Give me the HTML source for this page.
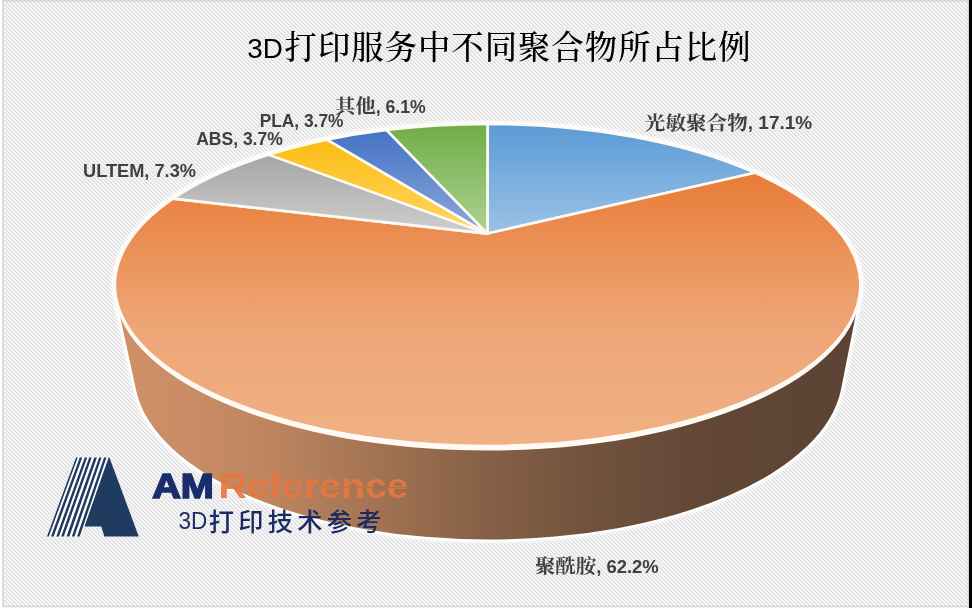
<!DOCTYPE html>
<html lang="zh-CN"><head><meta charset="utf-8"><title>3D打印服务中不同聚合物所占比例</title>
<style>html,body{margin:0;padding:0;background:#fff;overflow:hidden}svg{display:block}</style></head>
<body>
<svg width="972" height="608" viewBox="0 0 972 608">
<defs>
<linearGradient id="gBlue" gradientUnits="userSpaceOnUse" x1="0" y1="125" x2="0" y2="236"><stop offset="0" stop-color="#5b9bd5"/><stop offset="1" stop-color="#9dc3e6"/></linearGradient>
<linearGradient id="gOrange" gradientUnits="userSpaceOnUse" x1="0" y1="172" x2="0" y2="448"><stop offset="0" stop-color="#e87b36"/><stop offset="0.25" stop-color="#eb8f54"/><stop offset="0.55" stop-color="#eea576"/><stop offset="1" stop-color="#f0b184"/></linearGradient>
<linearGradient id="gGray" gradientUnits="userSpaceOnUse" x1="0" y1="155" x2="0" y2="236"><stop offset="0" stop-color="#a6a6a6"/><stop offset="1" stop-color="#cfcfcf"/></linearGradient>
<linearGradient id="gYellow" gradientUnits="userSpaceOnUse" x1="0" y1="140" x2="0" y2="236"><stop offset="0" stop-color="#fbbd12"/><stop offset="1" stop-color="#ffd766"/></linearGradient>
<linearGradient id="gBlue2" gradientUnits="userSpaceOnUse" x1="0" y1="130" x2="0" y2="236"><stop offset="0" stop-color="#4472c4"/><stop offset="1" stop-color="#8faadc"/></linearGradient>
<linearGradient id="gGreen" gradientUnits="userSpaceOnUse" x1="0" y1="125" x2="0" y2="236"><stop offset="0" stop-color="#70ad47"/><stop offset="1" stop-color="#aed494"/></linearGradient>
<linearGradient id="gSide" gradientUnits="userSpaceOnUse" x1="118" y1="0" x2="858" y2="0">
<stop offset="0" stop-color="#d09067"/><stop offset="0.1" stop-color="#c98c64"/><stop offset="0.2" stop-color="#be8660"/><stop offset="0.35" stop-color="#a27353"/><stop offset="0.5" stop-color="#856046"/><stop offset="0.65" stop-color="#70513c"/><stop offset="0.8" stop-color="#624736"/><stop offset="1" stop-color="#5c4333"/></linearGradient>
<filter id="glow" x="-5%" y="-5%" width="110%" height="110%"><feGaussianBlur stdDeviation="1.8"/></filter>
<pattern id="hatch" width="4" height="4" patternUnits="userSpaceOnUse"><rect width="4" height="4" fill="#fcfcfc"/><path d="M-4,-4 L8,8 M-4,0 L4,8 M0,-4 L8,4" stroke="#dedede" stroke-width="1.45"/></pattern>
</defs>
<rect x="0" y="0" width="972" height="608" fill="#ffffff"/>
<rect x="3" y="1" width="965.5" height="605.5" fill="url(#hatch)"/>
<rect x="3" y="0.75" width="965.5" height="605.75" fill="none" stroke="#d6d6d6" stroke-width="1.6"/>
<rect x="969" y="0" width="3" height="608" fill="#000000"/>
<path d="M116.53,300 L136.23,390.72 A354.07,165.5 0 0 0 841.07,389.22 L858.95,298.64 A372.7,161.05 0 1 0 116.53,300 Z" fill="#ffffff" stroke="#ffffff" stroke-width="7" stroke-linejoin="round" filter="url(#glow)" opacity="0.8"/>
<path d="M116.53,300 L136.23,390.72 A354.07,165.5 0 0 0 841.07,389.22 L858.95,298.64 A372.7,161.05 0 1 0 116.53,300 Z" fill="#ffffff" stroke="#ffffff" stroke-width="4.5" stroke-linejoin="round"/>
<path d="M116.53,300 L136.23,390.72 A354.07,165.5 0 0 0 841.07,389.22 L858.95,298.64 Z" fill="url(#gSide)"/>
<ellipse cx="487.6" cy="287.55" rx="373.6" ry="163.05" fill="#fffaf3"/>
<g stroke="#fdfaf3" stroke-width="2.6" stroke-linejoin="round">
<path d="M487.45,233.6 L487.5,123.9 A372.7,161.05 0 0 1 755.2,172.85 Z" fill="url(#gBlue)"/>
<path d="M487.45,233.6 L755.2,172.85 A372.7,161.05 0 1 1 173,198.6 Z" fill="url(#gOrange)"/>
<path d="M487.45,233.6 L173,198.6 A372.7,161.05 0 0 1 268.6,154.64 Z" fill="url(#gGray)"/>
<path d="M487.45,233.6 L268.6,154.64 A372.7,161.05 0 0 1 327,139.62 Z" fill="url(#gYellow)"/>
<path d="M487.45,233.6 L327,139.62 A372.7,161.05 0 0 1 386.4,129.95 Z" fill="url(#gBlue2)"/>
<path d="M487.45,233.6 L386.4,129.95 A372.7,161.05 0 0 1 487.5,123.9 Z" fill="url(#gGreen)"/>
</g>
<path d="M76.05,457.4 L108.6,457.4 L84.5,526.6 L81.5,536.4 L47,536.4 Z" fill="#ffffff"/>
<g fill="#1f3b60"><path d="M76.05,457.4 L77.75,457.4 L48.83,536.4 L47,536.4 Z"/><path d="M79.75,457.4 L82.25,457.4 L53.67,536.4 L50.98,536.4 Z"/><path d="M84.7,457.4 L87.2,457.4 L58.99,536.4 L56.3,536.4 Z"/><path d="M89.2,457.4 L91.7,457.4 L63.82,536.4 L61.14,536.4 Z"/><path d="M94.2,457.4 L96.9,457.4 L69.41,536.4 L66.51,536.4 Z"/><path d="M99.1,457.4 L101.6,457.4 L74.47,536.4 L71.78,536.4 Z"/><path d="M104,457.4 L106.5,457.4 L79.73,536.4 L77.05,536.4 Z"/><path d="M108.6,457.4 L109.4,457.4 L138.75,536.4 L104.4,536.4 L101.25,526.6 L84.5,526.6 Z"/></g>
<g font-family="&quot;Liberation Sans&quot;, &quot;Noto Serif CJK SC&quot;, sans-serif" fill="#000">
<text x="247.2" y="57.6" font-size="27.5" textLength="35.6" lengthAdjust="spacingAndGlyphs">3D</text>
<text x="284.6" y="58.9" font-size="32.4" font-weight="500" textLength="466" lengthAdjust="spacing">打印服务中不同聚合物所占比例</text>
</g>
<g font-family="&quot;Liberation Sans&quot;, &quot;Noto Serif CJK SC&quot;, sans-serif" font-weight="bold" fill="#404040" font-size="17.6">
<text x="83" y="176.6" textLength="113" lengthAdjust="spacingAndGlyphs">ULTEM, 7.3%</text>
<text x="196.2" y="144.8" textLength="86.6" lengthAdjust="spacingAndGlyphs">ABS, 3.7%</text>
<text x="259.7" y="127" textLength="83.8" lengthAdjust="spacingAndGlyphs">PLA, 3.7%</text>
<text x="335.1" y="112.9" font-size="18.8" font-weight="700" textLength="40.6" lengthAdjust="spacingAndGlyphs">其他</text>
<text x="375.7" y="112.7" textLength="50.1" lengthAdjust="spacingAndGlyphs">, 6.1%</text>
<text x="644.8" y="129.6" font-size="18.8" font-weight="700" textLength="103" lengthAdjust="spacingAndGlyphs">光敏聚合物</text>
<text x="747.8" y="129.4" textLength="64.4" lengthAdjust="spacingAndGlyphs">, 17.1%</text>
<text x="535" y="572.8" font-size="18.8" font-weight="700" textLength="61.2" lengthAdjust="spacingAndGlyphs">聚酰胺</text>
<text x="596.2" y="572.6" textLength="62.6" lengthAdjust="spacingAndGlyphs">, 62.2%</text>
</g>
<g font-family="&quot;Liberation Sans&quot;, sans-serif" font-weight="bold">
<text x="152.2" y="498" font-size="35.5" fill="#1a2d6d" stroke="#1a2d6d" stroke-width="1.7" stroke-linejoin="miter" textLength="61.6" lengthAdjust="spacingAndGlyphs">AM</text>
<text x="218.6" y="498.4" font-size="35.5" fill="#e7763f" fill-opacity="0.93" textLength="190" lengthAdjust="spacingAndGlyphs">Reference</text>
</g>
<rect x="246" y="486.9" width="162" height="1.3" fill="url(#gSide)" opacity="0.85"/>
<g font-family="&quot;Liberation Sans&quot;, &quot;Noto Sans CJK SC&quot;, sans-serif" fill="#1b2c64">
<text x="178.4" y="529.2" font-size="23.4" textLength="28.8" lengthAdjust="spacingAndGlyphs">3D</text>
<text x="208.8" y="531" font-size="25.2" font-weight="500" letter-spacing="4.3">打印技术参考</text>
</g>
</svg>
</body></html>
